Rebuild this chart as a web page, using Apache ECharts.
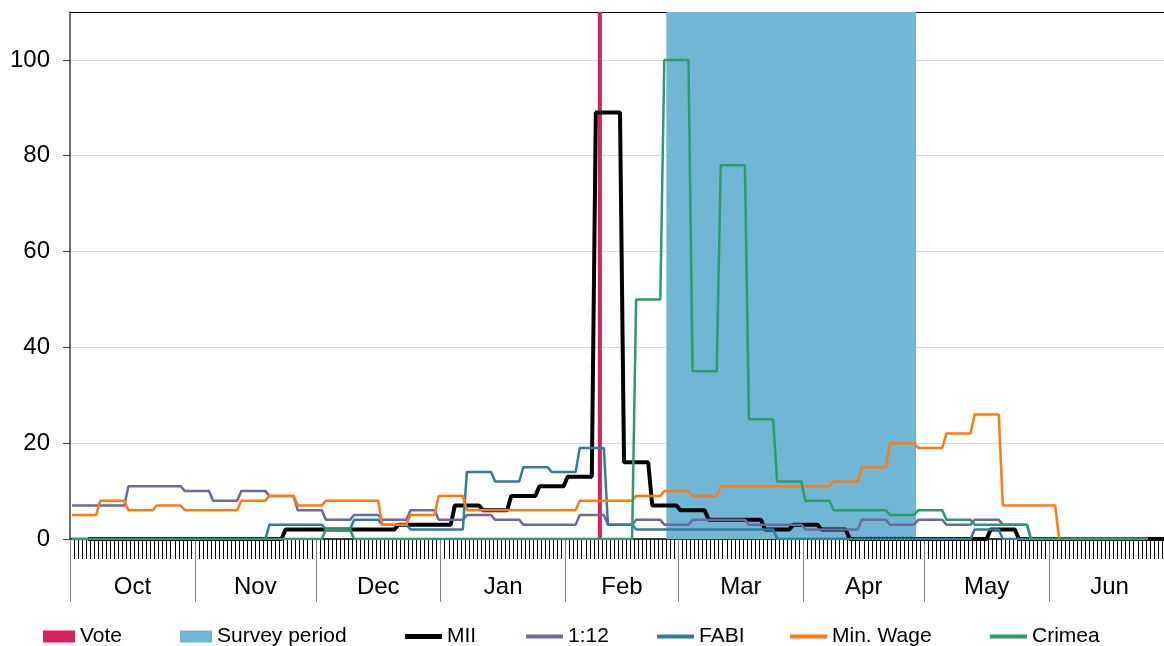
<!DOCTYPE html>
<html>
<head>
<meta charset="utf-8">
<script src="https://cdn.jsdelivr.net/npm/echarts@6/dist/echarts.min.js"></script>
<style>
html,body{margin:0;padding:0;background:#fff;}
#chart{width:1164px;height:646px;}
</style>
</head>
<body>
<div id="chart"></div>
<script>
// ---------- data ----------
const startDate = '2013-10-01';
const endDate = '2014-06-30';
const monthNames = ['Oct', 'Nov', 'Dec', 'Jan', 'Feb', 'Mar', 'Apr', 'May', 'Jun'];
const voteDate = '2014-02-09';
const surveyPeriod = ['2014-02-26', '2014-04-28'];
const yTickValues = [0, 20, 40, 60, 80, 100];
const yMax = 110;

// weekly values; weeks start on startDate (Tuesdays)
const weeklyEndDay = 267;
const oneTwelveWeekly = [7, 7, 11, 11, 10, 8, 10, 9, 6, 4, 5, 4, 6, 4, 5, 4, 3, 3, 5, 3, 4, 3, 4, 4, 3, 3, 2, 2, 4, 3, 4, 3, 4, 3, 0, 0, 0, 0, 0];
const fabiWeekly = [0, 0, 0, 0, 0, 0, 0, 3, 3, 2, 4, 3, 2, 2, 14, 12, 15, 14, 19, 3, 2, 2, 2, 2, 2, 0, 0, 0, 0, 0, 0, 0, 2, 0, 0, 0, 0, 0, 0];
const minWageWeekly = [5, 8, 6, 7, 6, 6, 8, 9, 7, 8, 8, 3, 5, 9, 6, 6, 6, 6, 8, 8, 9, 10, 9, 11, 11, 11, 11, 12, 15, 20, 19, 22, 26, 7, 7, 0, 0, 0, 0];
const crimeaWeekly = [0, 0, 0, 0, 0, 0, 0, 0, 0, 2, 0, 0, 0, 0, 0, 0, 0, 0, 0, 0, 50, 100, 35, 78, 25, 12, 8, 6, 6, 5, 6, 4, 3, 3, 0, 0, 0, 0, 0];
// MII weeks start 4 days after startDate (Saturdays)
const miiStartDay = 4;
const miiWeekly = [0, 0, 0, 0, 0, 0, 0, 2, 2, 2, 2, 3, 3, 7, 6, 9, 11, 13, 89, 16, 7, 6, 4, 4, 2, 3, 2, 0, 0, 0, 0, 0, 2, 0, 0, 0, 0, 0, 0];

// ---------- build daily categories ----------
function iso(d) { return d.toISOString().slice(0, 10); }
const days = [];
for (let d = new Date(startDate + 'T00:00:00Z'); iso(d) <= endDate; d.setUTCDate(d.getUTCDate() + 1)) {
  days.push(iso(d));
}
const nDays = days.length;
const monthStarts = [];
days.forEach((d, i) => { if (d.slice(8) === '01') monthStarts.push(i); });
monthStarts.push(nDays);
const monthMids = monthNames.map((_, i) => (monthStarts[i] + monthStarts[i + 1]) / 2);

function expandWeekly(values, firstDay, lastDay) {
  return days.map((_, d) => (d < firstDay || d > lastDay) ? null : values[Math.floor((d - firstDay) / 7)]);
}
const voteData = days.map(d => d === voteDate ? yMax : null);
const surveyData = [[days.indexOf(surveyPeriod[0]), days.indexOf(surveyPeriod[1]), yMax]];

const FONT = '"Liberation Sans", Arial, Helvetica, sans-serif';
const C = {
  vote: '#DA1F5E', survey: '#70B6D5', mii: '#000000', oneTwelve: '#6B68A2',
  fabi: '#2F7E9C', minWage: '#FF7A10', crimea: '#2E9B6B'
};

function lineSeries(name, data, color, width) {
  return {
    name, type: 'line', data, xAxisIndex: 0, yAxisIndex: 0,
    symbol: 'none', showSymbol: false, connectNulls: false,
    lineStyle: { color, width }, itemStyle: { color }, z: 3, animation: false
  };
}

const legendItems = [
  { name: 'Vote', left: 43, w: 32, h: 12, icon: 'rect' },
  { name: 'Survey period', left: 180, w: 32, h: 12, icon: 'rect' },
  { name: 'MII', left: 405, w: 37, h: 12, icon: 'path://M0,0H37V5H0Z' },
  { name: '1:12', left: 526, w: 37, h: 12, icon: 'path://M0,0H37V4H0Z' },
  { name: 'FABI', left: 657, w: 37, h: 12, icon: 'path://M0,0H37V4H0Z' },
  { name: 'Min. Wage', left: 790, w: 37, h: 12, icon: 'path://M0,0H37V4H0Z' },
  { name: 'Crimea', left: 990, w: 37, h: 12, icon: 'path://M0,0H37V4H0Z' }
];

const chart = echarts.init(document.getElementById('chart'), null, { renderer: 'canvas' });
chart.setOption({
  animation: false,
  backgroundColor: '#fff',
  grid: { left: 70, top: 12, width: 1100, height: 527, containLabel: false, outerBoundsMode: 'none' },
  legend: legendItems.map(it => ({
    left: it.left, top: 626, padding: 0, itemWidth: it.w, itemHeight: it.h,
    textStyle: { fontSize: 21, color: '#000', fontFamily: FONT },
    data: [{ name: it.name, icon: it.icon }]
  })),
  xAxis: [
    {
      type: 'category', data: days, boundaryGap: true, position: 'bottom',
      axisLine: { show: true, onZero: false, lineStyle: { color: '#000', width: 1.5 } },
      axisTick: { show: true, interval: 0, length: 20, lineStyle: { color: '#000', width: 1 } },
      axisLabel: { show: false }, splitLine: { show: false }
    },
    {
      type: 'value', min: 0, max: nDays, position: 'bottom',
      axisLine: { show: false, onZero: false },
      axisTick: { show: true, customValues: monthStarts, length: 63, lineStyle: { color: '#7f7f7f', width: 1 } },
      axisLabel: {
        show: true, customValues: monthMids, margin: 36, fontSize: 24, color: '#000', fontFamily: FONT,
        formatter: v => monthNames[monthMids.indexOf(v)] || ''
      },
      splitLine: { show: false }
    },
    {
      type: 'value', min: 0, max: 1, position: 'top',
      axisLine: { show: true, onZero: false, lineStyle: { color: '#000', width: 1.2 } },
      axisTick: { show: false }, axisLabel: { show: false }, splitLine: { show: false }
    }
  ],
  yAxis: {
    type: 'value', min: 0, max: yMax, interval: 20,
    axisLine: { show: true, onZero: false, lineStyle: { color: '#404040', width: 1.5 } },
    axisTick: { show: true, customValues: yTickValues, length: 7, lineStyle: { color: '#404040' } },
    axisLabel: { customValues: yTickValues, fontSize: 24, color: '#000', margin: 20, fontFamily: FONT },
    splitLine: { show: true, lineStyle: { color: '#d9d9d9', width: 1 } }
  },
  series: [
    {
      name: 'Survey period', type: 'custom', data: surveyData, xAxisIndex: 0, yAxisIndex: 0, z: 1,
      encode: { x: [0, 1], y: 2 },
      itemStyle: { color: C.survey },
      renderItem: (params, api) => {
        const p0 = api.coord([api.value(0), api.value(2)]);
        const p1 = api.coord([api.value(1), 0]);
        const bw = api.size([1, 0])[0];
        return {
          type: 'rect',
          shape: { x: p0[0] - bw / 2, y: p0[1], width: p1[0] - p0[0] + bw, height: p1[1] - p0[1] },
          style: { fill: C.survey }
        };
      }
    },
    {
      name: 'Vote', type: 'bar', data: voteData, xAxisIndex: 0, yAxisIndex: 0,
      barCategoryGap: '0%', z: 2,
      itemStyle: { color: C.vote }
    },
    lineSeries('MII', expandWeekly(miiWeekly, miiStartDay, nDays - 1), C.mii, 4),
    lineSeries('1:12', expandWeekly(oneTwelveWeekly, 0, weeklyEndDay), C.oneTwelve, 2.5),
    lineSeries('FABI', expandWeekly(fabiWeekly, 0, weeklyEndDay), C.fabi, 2.5),
    lineSeries('Min. Wage', expandWeekly(minWageWeekly, 0, weeklyEndDay), C.minWage, 2.5),
    lineSeries('Crimea', expandWeekly(crimeaWeekly, 0, weeklyEndDay), C.crimea, 2.5)
  ]
});
</script>
</body>
</html>
